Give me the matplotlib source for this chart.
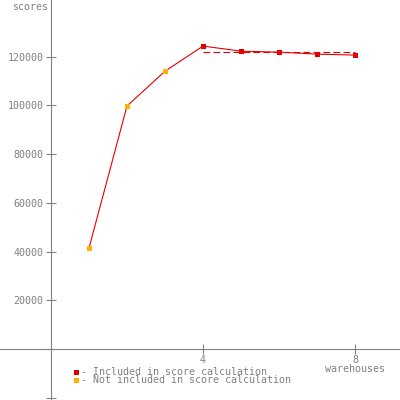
import matplotlib
matplotlib.use("Agg")
import matplotlib.pyplot as plt

# warehouses vs scores
warehouses = [1, 2, 3, 4, 5, 6, 7, 8]
scores = [41400, 99700, 114000, 124300, 122200, 121800, 121000, 120600]
included = [False, False, False, True, True, True, True, True]
score_line = 122000  # dashed average line over included points

ytick_values = [-20000, 0, 20000, 40000, 60000, 80000, 100000, 120000]
ytick_labels = ["", "", "20000", "40000", "60000", "80000", "100000", "120000"]
xtick_values = [4, 8]
xtick_labels = ["4", "8"]

gray = "#808080"
red = "#e00000"
orange = "#ffb000"
fs = 7.2

plt.rcParams["font.family"] = "DejaVu Sans Mono"

fig = plt.figure(figsize=(4, 4), dpi=100)
ax = fig.add_axes([0, 0, 1, 1])
ax.set_xlim(-1.34, 9.18)
ax.set_ylim(-20900, 143200)

for s in ["top", "right"]:
    ax.spines[s].set_visible(False)
ax.spines["left"].set_position(("data", 0))
ax.spines["bottom"].set_position(("data", 0))
ax.spines["left"].set_color(gray)
ax.spines["bottom"].set_color(gray)

ax.set_yticks(ytick_values)
ax.set_yticklabels(ytick_labels)
ax.set_xticks(xtick_values)
ax.set_xticklabels(xtick_labels)
ax.tick_params(axis="both", direction="inout", length=7, width=0.8, color=gray,
               labelcolor=gray, labelsize=fs, pad=1)
ax.tick_params(axis="y", pad=2)

# line through all points
ax.plot(warehouses, scores, color=red, lw=0.8, zorder=3)
# dashed score line
ax.plot([4, 8], [score_line, score_line], color=red, lw=0.8, dashes=(6, 3), zorder=2)

xs_in = [w for w, i in zip(warehouses, included) if i]
ys_in = [v for v, i in zip(scores, included) if i]
xs_out = [w for w, i in zip(warehouses, included) if not i]
ys_out = [v for v, i in zip(scores, included) if not i]
ax.plot(xs_in, ys_in, "s", color=red, ms=3.6, mew=0, zorder=4)
ax.plot(xs_out, ys_out, "s", color=orange, ms=3.6, mew=0, zorder=4)

ax.text(12 / 400, 1 - 2 / 400, "scores", transform=ax.transAxes, color=gray,
        fontsize=fs, ha="left", va="top")
ax.text(8, -6200, "warehouses", color=gray, fontsize=fs, ha="center", va="top")

# legend
ax.plot([76 / 400], [1 - 372 / 400], "s", color=red, ms=3.6, mew=0,
        transform=ax.transAxes, clip_on=False)
ax.plot([76 / 400], [1 - 380 / 400], "s", color=orange, ms=3.6, mew=0,
        transform=ax.transAxes, clip_on=False)
ax.text(81 / 400, 1 - 372 / 400, "- Included in score calculation", transform=ax.transAxes,
        color=gray, fontsize=fs, ha="left", va="center")
ax.text(81 / 400, 1 - 380 / 400, "- Not included in score calculation", transform=ax.transAxes,
        color=gray, fontsize=fs, ha="left", va="center")

fig.savefig("out.png", dpi=100)
